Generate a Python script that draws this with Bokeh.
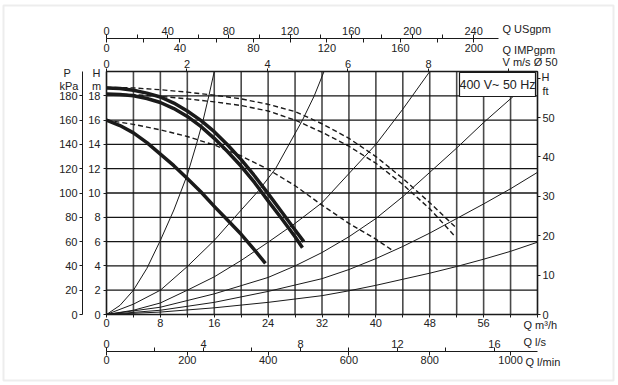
from bokeh.plotting import figure
from bokeh.models import Range1d, LinearAxis, FixedTicker, Label, BoxAnnotation
from bokeh.embed import file_html
from bokeh.resources import INLINE

# ---------------- axis / tick data ----------------
Q_MAX = 64                       # m3/h at right edge of the chart
H_MAX = 20                       # m at top edge of the chart
Q_M3H_TICKS = [0, 4, 8, 12, 16, 20, 24, 28, 32, 36, 40, 44, 48, 52, 56, 60, 64]
Q_M3H_LABELED = [0, 8, 16, 24, 32, 40, 48, 56]
H_TICKS = [0, 2, 4, 6, 8, 10, 12, 14, 16, 18]
H_GRID = [0, 2, 4, 6, 8, 10, 12, 14, 16, 18, 20]
KPA_TICKS = [0, 20, 40, 60, 80, 100, 120, 140, 160, 180]
KPA_MAX = 200
FT_TICKS = [0, 10, 20, 30, 40, 50, 60]
FT_LABELED = [0, 10, 20, 30, 40, 50]
FT_MAX = 61.7
V_TICKS = [0, 2, 4, 6, 8, 10]
V_LABELED = [0, 2, 4, 6, 8]
V_MAX = 10.71
USGPM_TICKS = [0, 20, 40, 60, 80, 100, 120, 140, 160, 180, 200, 220, 240]
USGPM_LABELED = [0, 40, 80, 120, 160, 200, 240]
USGPM_LINE_END = 256
IMPGPM_TICKS = [0, 20, 40, 60, 80, 100, 120, 140, 160, 180, 200]
IMPGPM_LABELED = [0, 40, 80, 120, 160, 200]
LPS_TICKS = [0, 2, 4, 6, 8, 10, 12, 14, 16]
LPS_LABELED = [0, 4, 8, 12, 16]
LPM_TICKS = [0, 200, 400, 600, 800, 1000]

USGPM_PER_M3H = 4.4029
IMPGPM_PER_M3H = 3.6662
LPM_PER_M3H = 1000.0 / 60.0
LPS_PER_M3H = 1000.0 / 3600.0
V_PER_M3H = V_MAX / Q_MAX
KPA_PER_M = KPA_MAX / H_MAX
FT_PER_M = FT_MAX / H_MAX

# ---------------- pump curves (thick) ----------------
pumpA_q = [0, 2, 4, 6, 8, 10, 12, 14, 16, 18, 20, 22, 24, 26, 28, 29.3]
pumpA_h = [18.65, 18.6, 18.45, 18.22, 17.9, 17.4, 16.75, 15.98, 15.05, 13.95, 12.75, 11.4, 9.95, 8.45, 6.95, 6.0]
pumpB_q = [0, 2, 4, 6, 8, 10, 12, 14, 16, 18, 20, 22, 24, 26, 28, 29.1]
pumpB_h = [18.15, 18.1, 18.0, 17.78, 17.45, 16.95, 16.3, 15.48, 14.5, 13.4, 12.2, 10.85, 9.35, 7.9, 6.4, 5.5]
pumpC_q = [0, 2, 4, 6, 8, 10, 12, 14, 16, 18, 20, 22, 23.6]
pumpC_h = [16.0, 15.55, 14.95, 14.15, 13.2, 12.25, 11.2, 10.1, 8.9, 7.75, 6.6, 5.3, 4.2]

# ---------------- dashed curves ----------------
dashA_q = [0, 4, 8, 12, 16, 20, 24, 28, 32, 36, 40, 44, 48, 51.8]
dashA_h = [18.7, 18.65, 18.5, 18.3, 18.05, 17.75, 17.3, 16.7, 15.7, 14.5, 13.0, 11.2, 9.2, 7.2]
dashB_q = [0, 4, 8, 12, 16, 20, 24, 28, 32, 36, 40, 44, 48, 51.8]
dashB_h = [18.15, 18.1, 17.95, 17.75, 17.5, 17.2, 16.75, 16.0, 15.0, 13.85, 12.45, 10.7, 8.7, 6.4]
dashC_q = [0, 4, 8, 12, 16, 20, 24, 28, 32, 36, 40, 42.4]
dashC_h = [16.0, 15.65, 15.2, 14.65, 13.95, 13.05, 11.95, 10.6, 9.0, 7.5, 6.2, 5.3]

# ---------------- system curves (thin) ----------------
sys1_q = [0, 2, 4, 6, 8, 10, 12, 13.35, 14.35, 15.2, 16.0]
sys1_h = [0, 0.75, 2.0, 3.8, 6.1, 8.6, 11.5, 14.0, 16.0, 18.0, 20.0]
sys2_q = [0, 4, 8, 12, 16, 20, 22.6, 25.1, 27.1, 29.1, 30.85, 32.3]
sys2_h = [0, 0.85, 2.0, 3.95, 6.1, 8.6, 10.2, 12.0, 14.0, 16.0, 18.0, 20.0]
sys3_q = [0, 4, 8, 12, 16, 20, 24, 28, 32, 36, 40, 44, 48]
sys3_h = [0, 0.35, 0.95, 2.0, 3.1, 4.45, 5.95, 7.5, 9.2, 11.6, 14.0, 16.9, 20.0]
sys4_q = [0, 8, 16, 24, 28, 32, 36, 40, 44, 48, 52, 56, 60.5]
sys4_h = [0, 0.6, 1.7, 3.05, 4.0, 5.1, 6.4, 7.9, 9.7, 11.7, 13.7, 15.8, 18.0]
sys5_q = [0, 8, 16, 24, 32, 36, 40, 44, 48, 52, 56, 60, 64]
sys5_h = [0, 0.35, 1.0, 1.9, 2.95, 3.7, 4.6, 5.6, 6.7, 7.9, 9.1, 10.35, 11.7]
sys6_q = [0, 8, 16, 24, 32, 36, 40, 44, 48, 52, 56, 60, 64]
sys6_h = [0, 0.2, 0.55, 1.0, 1.55, 1.95, 2.4, 2.9, 3.4, 3.95, 4.55, 5.2, 5.95]

LEGEND_TEXT = "400 V~ 50 Hz"

# ---------------- canvas geometry (chart frame at px 106..537 x 71..314) ----------------
W, H = 618, 385
PX_L, PX_R, PX_T, PX_B = 106, 537, 71, 314
SX = (PX_R - PX_L) / Q_MAX
SY = (PX_B - PX_T) / H_MAX
X0, X1 = -PX_L / SX, (W - PX_L) / SX
Y0, Y1 = -(H - PX_B) / SY, PX_B / SY


def dx(px):
    return (px - PX_L) / SX


def dy(py):
    return (PX_B - py) / SY


FONT = "Liberation Sans"
FS = "11px"
INK = "#1a1a1a"
TXT = "#222222"

p = figure(width=W, height=H, output_backend="svg", toolbar_location=None,
           x_range=Range1d(X0, X1), y_range=Range1d(Y0, Y1),
           min_border_left=0, min_border_right=0, min_border_top=0, min_border_bottom=0,
           background_fill_color="white", border_fill_color="white")
p.outline_line_color = None
p.grid.visible = False

p.extra_x_ranges = {
    "vel": Range1d(X0 * V_PER_M3H, X1 * V_PER_M3H),
    "imp": Range1d(X0 * IMPGPM_PER_M3H, X1 * IMPGPM_PER_M3H),
    "usg": Range1d(X0 * USGPM_PER_M3H, X1 * USGPM_PER_M3H),
    "lps": Range1d(X0 * LPS_PER_M3H, X1 * LPS_PER_M3H),
    "lpm": Range1d(X0 * LPM_PER_M3H, X1 * LPM_PER_M3H),
}
p.extra_y_ranges = {
    "kpa": Range1d(Y0 * KPA_PER_M, Y1 * KPA_PER_M),
    "ft": Range1d(Y0 * FT_PER_M, Y1 * FT_PER_M),
}


def style(ax, ticks, labeled, tick_out, standoff, bounds, line=True):
    ax.ticker = FixedTicker(ticks=ticks)
    ax.major_label_overrides = {t: "" for t in ticks if t not in labeled}
    ax.major_label_text_font = FONT
    ax.major_label_text_font_size = FS
    ax.major_label_text_color = TXT
    ax.major_tick_out = tick_out
    ax.major_tick_in = 0
    ax.minor_tick_line_color = None
    ax.major_label_standoff = standoff
    ax.axis_line_color = INK if line else None
    ax.axis_line_width = 1
    ax.major_tick_line_color = INK
    ax.bounds = bounds


# ---- grid (chart area only) ----
p.segment(x0=Q_M3H_TICKS, x1=Q_M3H_TICKS, y0=[0] * len(Q_M3H_TICKS), y1=[H_MAX] * len(Q_M3H_TICKS),
          line_color="#4a4a4a", line_width=1.6)
p.segment(x0=[0] * len(H_GRID), x1=[Q_MAX] * len(H_GRID), y0=H_GRID, y1=H_GRID,
          line_color="#151515", line_width=1.3)

# ---- curves ----
for q, h in [(sys1_q, sys1_h), (sys2_q, sys2_h), (sys3_q, sys3_h),
             (sys4_q, sys4_h), (sys5_q, sys5_h), (sys6_q, sys6_h)]:
    p.line(q, h, line_color=INK, line_width=1, line_join="round")

for q, h in [(dashA_q, dashA_h), (dashB_q, dashB_h), (dashC_q, dashC_h)]:
    p.line(q, h, line_color=INK, line_width=1.4, line_dash="5 3")

for q, h in [(pumpA_q, pumpA_h), (pumpB_q, pumpB_h), (pumpC_q, pumpC_h)]:
    p.line(q, h, line_color=INK, line_width=3.5, line_join="round")

# ---- chart frame ----
p.quad(left=[0], right=[Q_MAX], bottom=[0], top=[H_MAX], fill_color=None,
       line_color=INK, line_width=1.2)

# ---- legend box ----
p.quad(left=[dx(459)], right=[dx(535)], bottom=[dy(96)], top=[dy(72)],
       fill_color="white", line_color=INK, line_width=1.2)
p.add_layout(Label(x=(dx(459) + dx(535)) / 2, y=(dy(96) + dy(72)) / 2,
                   text=LEGEND_TEXT, text_font=FONT, text_font_size="12.5px",
                   text_align="center", text_baseline="middle", text_color=TXT))

# ---- axes (fixed inside the canvas-wide frame) ----
bx = p.xaxis[0]
style(bx, Q_M3H_TICKS, Q_M3H_LABELED, 3, 1, (0, Q_MAX))
bx.fixed_location = 0

ly = p.yaxis[0]
style(ly, H_TICKS, H_TICKS, 3, 3, (0, H_MAX))
ly.fixed_location = 0

kpa = LinearAxis(y_range_name="kpa")
style(kpa, KPA_TICKS, KPA_TICKS, 3, 2, (0, KPA_MAX))
kpa.fixed_location = dx(82)
p.add_layout(kpa, "left")

ft = LinearAxis(y_range_name="ft")
style(ft, FT_TICKS, FT_LABELED, 3, 2, (0, FT_MAX))
ft.fixed_location = Q_MAX
p.add_layout(ft, "right")

vax = LinearAxis(x_range_name="vel")
style(vax, V_TICKS, V_LABELED, 3, 1, (0, V_MAX))
vax.fixed_location = H_MAX
p.add_layout(vax, "above")

usg = LinearAxis(x_range_name="usg")
style(usg, USGPM_TICKS, USGPM_LABELED, 4, 0, (0, USGPM_LINE_END))
usg.fixed_location = dy(38)
p.add_layout(usg, "above")

imp = LinearAxis(x_range_name="imp")
style(imp, IMPGPM_TICKS, IMPGPM_LABELED, 4, 1, (0, USGPM_LINE_END * IMPGPM_PER_M3H / USGPM_PER_M3H),
      line=False)
imp.fixed_location = dy(38)
p.add_layout(imp, "below")

lps = LinearAxis(x_range_name="lps")
style(lps, LPS_TICKS, LPS_LABELED, 4, 0, (0, Q_MAX * LPS_PER_M3H), line=False)
lps.fixed_location = dy(351)
p.add_layout(lps, "above")

lpm = LinearAxis(x_range_name="lpm")
style(lpm, LPM_TICKS, LPM_TICKS, 4, 0, (0, Q_MAX * LPM_PER_M3H))
lpm.fixed_location = dy(351)
p.add_layout(lpm, "below")

# ---- unit texts ----
def lab(x, y, t, align="left"):
    p.add_layout(Label(x=x, y=y, text=t, text_font=FONT, text_font_size=FS,
                       text_align=align, text_baseline="middle", text_color=TXT))


lab(dx(66.7), dy(72), "P", "center")
lab(dx(68.5), dy(85), "kPa", "center")
lab(dx(96), dy(72), "H", "center")
lab(dx(96), dy(85), "m", "center")
lab(dx(545), dy(76.5), "H", "center")
lab(dx(545), dy(90.5), "ft", "center")
lab(dx(502), dy(28.5), "Q USgpm")
lab(dx(502), dy(49), "Q IMPgpm")
lab(dx(502), dy(61), "V m/s Ø 50")
lab(dx(523), dy(324), "Q m³/h")
lab(dx(523), dy(341.5), "Q l/s")
lab(dx(525), dy(361), "Q l/min")

# ---- outer light frame ----
p.add_layout(BoxAnnotation(left=dx(3), right=dx(613), bottom=dy(380), top=dy(5),
                           fill_alpha=0, line_color="#c4c4c4", line_width=2))

open("out.html", "w").write(file_html(p, INLINE))
